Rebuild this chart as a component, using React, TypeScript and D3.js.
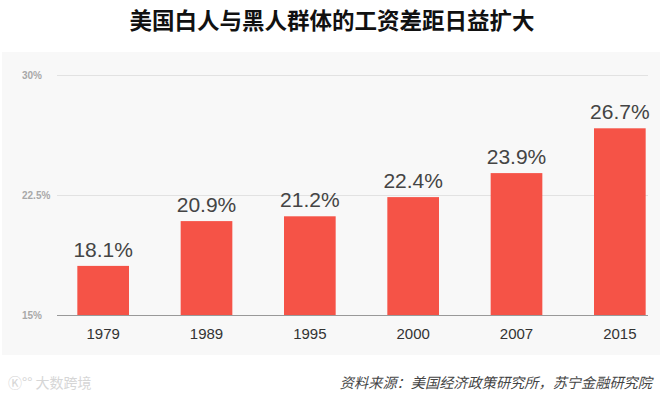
import React from 'react';
import * as d3 from 'd3';

const years = ['1979', '1989', '1995', '2000', '2007', '2015'];
const gaps = [18.1, 20.9, 21.2, 22.4, 23.9, 26.7];
const yTicks = [15, 22.5, 30];
const yTickLabels = ['15%', '22.5%', '30%'];

const W = 666;
const H = 398;

export default function App() {
  const x = d3.scaleBand<string>()
    .domain(years)
    .range([51.5, 671.5])
    .paddingInner(0.5)
    .paddingOuter(0.25);

  const y = d3.scaleLinear().domain([15, 30]).range([315.5, 75.5]);

  return (
    <svg width={W} height={H} style={{ position: 'absolute', left: 0, top: 0, background: '#fff' }}>
      <text x={332} y={29} textAnchor="middle" fontFamily="'Noto Sans CJK SC', sans-serif"
        fontWeight="bold" fontSize={22.5} fill="#111">
        美国白人与黑人群体的工资差距日益扩大
      </text>

      {/* chart panel */}
      <rect x={2} y={52} width={658} height={303} fill="#f8f8f8" />

      {yTicks.map((t, i) => (
        <g key={t}>
          {i > 0 && (
            <line x1={57} x2={648} y1={y(t)} y2={y(t)} stroke="#e2e2e2" strokeWidth={1} />
          )}
          <text x={22} y={y(t) + 3.5} fontFamily="'Liberation Sans', Arial, sans-serif" fontSize={10}
            fontWeight="bold" fill="#a8a8a8">
            {yTickLabels[i]}
          </text>
        </g>
      ))}

      {years.map((yr, i) => (
        <g key={yr}>
          <rect x={x(yr)} y={y(gaps[i])} width={x.bandwidth()} height={y(15) - y(gaps[i])} fill="#f55347" />
          <text x={(x(yr) as number) + x.bandwidth() / 2} y={y(gaps[i]) - 9} textAnchor="middle"
            fontFamily="'Liberation Sans', Arial, sans-serif" fontSize={21} fill="#444">
            {gaps[i].toFixed(1)}%
          </text>
          <text x={(x(yr) as number) + x.bandwidth() / 2} y={339} textAnchor="middle"
            fontFamily="'Liberation Sans', Arial, sans-serif" fontSize={15} fill="#333">
            {yr}
          </text>
        </g>
      ))}

      <line x1={57} x2={648} y1={y(15)} y2={y(15)} stroke="#999" strokeWidth={1.2} />

      <text x={8} y={388} fontFamily="'Noto Sans CJK SC', sans-serif" fontSize={14} fill="#d6d6d6">
        Ⓚ°° 大数跨境
      </text>
      <text x={652} y={388} textAnchor="end" fontFamily="'Noto Sans CJK SC', sans-serif"
        fontSize={14.2} fontStyle="italic" fill="#444">
        资料来源：美国经济政策研究所，苏宁金融研究院
      </text>
    </svg>
  );
}
